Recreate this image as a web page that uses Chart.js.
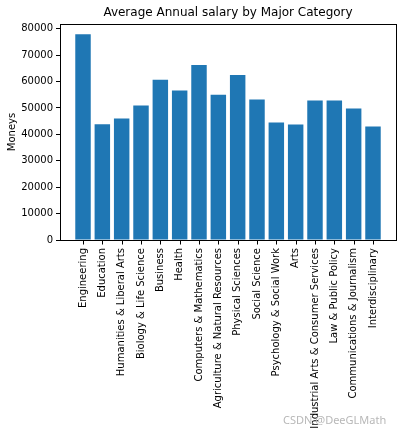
<!DOCTYPE html>
<html>
<head>
<meta charset="utf-8">
<script src="https://cdn.jsdelivr.net/npm/chart.js@4"></script>
<style>
html,body{margin:0;padding:0;background:#fff;}
#wrap{position:relative;width:402px;height:435px;overflow:hidden;}
#wm{position:absolute;left:283px;top:412px;font-family:'Noto Sans',sans-serif;font-size:11px;color:#b8b8b8;white-space:nowrap;}
</style>
</head>
<body>
<div id="wrap">
<canvas id="c"></canvas>
<div id="wm">CSDN @DeeGLMath</div>
</div>
<script>
const categories = ["Engineering","Education","Humanities & Liberal Arts","Biology & Life Science","Business","Health","Computers & Mathematics","Agriculture & Natural Resources","Physical Sciences","Social Science","Psychology & Social Work","Arts","Industrial Arts & Consumer Services","Law & Public Policy","Communications & Journalism","Interdisciplinary"];
const salaries = [77900,43800,46000,50900,60700,56600,66300,55000,62500,53200,44500,43700,52800,52800,49800,43000];
const yTicks = [0,10000,20000,30000,40000,50000,60000,70000,80000];

const n = categories.length;
const xPad = 0.05*(n-1+0.8);
const font = {family:"'DejaVu Sans', sans-serif", size:10};

const spines = {
  id:'spines',
  afterDraw(chart){
    const {ctx, chartArea:a} = chart;
    ctx.save();
    ctx.strokeStyle='#000';
    ctx.lineWidth=1;
    ctx.strokeRect(Math.round(a.left)+0.5, Math.round(a.top)+0.5, Math.round(a.right-a.left), Math.round(a.bottom-a.top));
    // x tick marks at each category position, via the scale
    const xs = chart.scales.x;
    ctx.beginPath();
    categories.forEach((_,i)=>{
      const px = Math.round(xs.getPixelForValue(i))+0.5;
      ctx.moveTo(px, Math.round(a.bottom)+0.5);
      ctx.lineTo(px, Math.round(a.bottom)+4.5);
    });
    ctx.stroke();
    ctx.restore();
  }
};

new Chart(document.getElementById('c'), {
  type:'bar',
  data:{
    datasets:[{
      data: salaries.map((v,i)=>({x:i,y:v})),
      backgroundColor:'#1f77b4',
      borderWidth:0,
      barPercentage:0.8,
      categoryPercentage:1.0
    }]
  },
  options:{
    responsive:true,
    maintainAspectRatio:false,
    animation:false,
    devicePixelRatio:1,
    layout:{padding:{left:0,right:6,top:0,bottom:0}},
    plugins:{
      legend:{display:false},
      tooltip:{enabled:false},
      title:{
        display:true,
        text:'Average Annual salary by Major Category',
        fullSize:false,
        color:'#000',
        font:{family:"'DejaVu Sans', sans-serif", size:12, weight:'normal', lineHeight:1.2},
        padding:{top:6,bottom:3.6}
      }
    },
    scales:{
      x:{
        type:'linear',
        min:-0.4-xPad,
        max:n-1+0.4+xPad,
        offset:false,
        grid:{display:false,drawOnChartArea:false,drawTicks:false},
        border:{display:true,color:'#000'},
        afterBuildTicks(axis){ axis.ticks = categories.map((_,i)=>({value:i})); },
        afterFit(scale){ scale.height = 195; },
        ticks:{
          autoSkip:false,
          stepSize:1,
          minRotation:90,
          maxRotation:90,
          padding:8,
          color:'#000',
          font:font,
          callback:(v)=>(Number.isInteger(v) && v>=0 && v<n) ? categories[v] : ''
        }
      },
      y:{
        min:0,
        max:Math.max(...salaries)*1.05,
        grid:{drawOnChartArea:false,drawTicks:true,tickLength:4,color:'#000'},
        border:{display:true,color:'#000'},
        afterBuildTicks(axis){ axis.ticks = yTicks.map(v=>({value:v})); },
        afterFit(scale){ scale.width = 60; },
        title:{display:true,text:'Moneys',color:'#000',font:font,padding:{top:6,bottom:0}},
        ticks:{color:'#000',font:font,padding:3,stepSize:10000,includeBounds:false,autoSkip:false,callback:(v)=>yTicks.includes(v)?String(v):''}
      }
    }
  },
  plugins:[spines]
});
</script>
</body>
</html>
